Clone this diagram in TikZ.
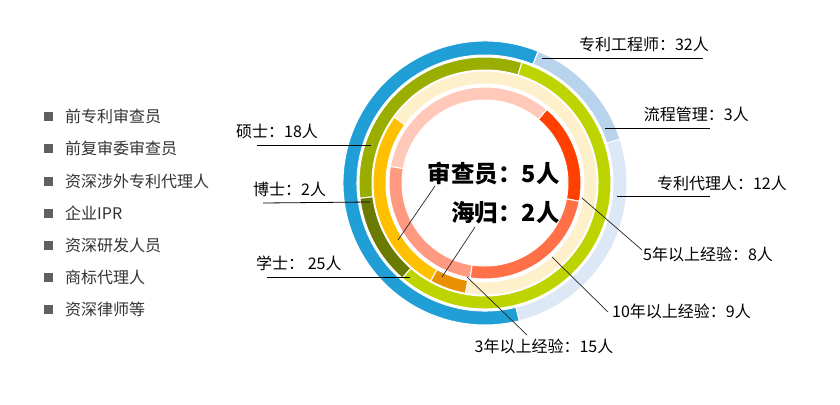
\documentclass[tikz,border=0pt]{standalone}
\usepackage{fontspec}
\setmainfont{Noto Sans CJK SC}
\definecolor{cblue}{HTML}{1F9FD5}
\definecolor{clb1}{HTML}{B8D4EC}
\definecolor{clb2}{HTML}{DCE8F5}
\definecolor{colive}{HTML}{9AAE00}
\definecolor{cdolive}{HTML}{6B7A00}
\definecolor{cygreen}{HTML}{BDD400}
\definecolor{ccream}{HTML}{FFF0CC}
\definecolor{cyellow}{HTML}{FFC000}
\definecolor{corange}{HTML}{E89000}
\definecolor{cred}{HTML}{FF4000}
\definecolor{cor2}{HTML}{FF7048}
\definecolor{csalmon}{HTML}{FF9A80}
\definecolor{cpink}{HTML}{FFC8B8}
\definecolor{legsq}{HTML}{606060}
\definecolor{legtx}{HTML}{333333}
\newcommand\ringseg[5]{%
  \filldraw[fill=#1,draw=white,line width=1pt] (#2:#5pt) arc[start angle=#2,end angle=#3,radius=#5pt]
    -- (#3:#4pt) arc[start angle=#3,end angle=#2,radius=#4pt] -- cycle;}
\begin{document}
\begin{tikzpicture}[x=1pt,y=-1pt,
  lbl/.style={font=\fontsize{16}{19}\selectfont,text=black,inner sep=0pt},
  leg/.style={font=\fontsize{16}{19}\selectfont,text=legtx,inner sep=0pt,anchor=west},
  legbox/.style={fill=legsq,minimum size=9pt,inner sep=0pt},
  ctr/.style={font=\fontsize{23.5}{27}\selectfont\bfseries,text=black,inner sep=0pt,anchor=east},
  lead/.style={draw=black,line width=0.8pt},
  leadthin/.style={draw=black!85,line width=0.7pt}]
\useasboundingbox (0,0) rectangle (840,404);
\fill[white] (0,0) rectangle (840,404);
% rings
\begin{scope}[shift={(485,183)}]
  % outer ring
  \ringseg{cblue}{68}{284}{128}{142}
  \ringseg{clb1}{18}{68}{128}{142}
  \ringseg{clb2}{-76}{18}{128}{142}
  % education ring
  \ringseg{colive}{73}{187}{113}{126}
  \ringseg{cdolive}{187}{229}{113}{126}
  \ringseg{cygreen}{229}{433}{113}{126}
  % reviewer ring
  \ringseg{cyellow}{144}{241}{99}{112}
  \ringseg{corange}{241}{260}{99}{112}
  \ringseg{ccream}{260}{504}{99}{112}
  % experience ring
  \ringseg{cred}{-11}{50}{83}{96}
  \ringseg{cor2}{-99}{-11}{83}{96}
  \ringseg{csalmon}{170}{261}{83}{96}
  \ringseg{cpink}{50}{170}{83}{96}
\end{scope}
% center texts
\node[ctr] (shen) at (560,174) {审查员：5人};
\node[ctr] (hai) at (560,213) {海归：2人};
\coordinate (shenA) at (435,186);
\coordinate (shenB) at (398,240);
\coordinate (haiA) at (475,227);
\coordinate (haiB) at (442,277);
\draw[leadthin] (shenA) -- (shenB);
\draw[leadthin] (haiA) -- (haiB);
% right labels
\node[lbl,anchor=east] (gcs) at (709,44) {专利工程师：32人};
\coordinate (gcsA) at (542,58);
\coordinate (gcsB) at (703,58);
\draw[lead] (gcsA) -- (gcsB);
\node[lbl,anchor=east] (lc) at (749,114) {流程管理：3人};
\coordinate (lcA) at (605,128);
\coordinate (lcB) at (710,128);
\draw[lead] (lcA) -- (lcB);
\node[lbl,anchor=east] (dl) at (787,183) {专利代理人：12人};
\coordinate (dlA) at (617,196);
\coordinate (dlB) at (710,196);
\draw[lead] (dlA) -- (dlB);
\node[lbl,anchor=west] (y5) at (643,254) {5年以上经验：8人};
\coordinate (y5A) at (582,198);
\coordinate (y5B) at (642,250);
\draw[leadthin] (y5A) -- (y5B);
\node[lbl,anchor=west] (y10) at (612,311) {10年以上经验：9人};
\coordinate (y10A) at (552,257);
\coordinate (y10B) at (608,312);
\draw[leadthin] (y10A) -- (y10B);
\node[lbl,anchor=north] (y3) at (544,339) {3年以上经验：15人};
\coordinate (y3A) at (467,277);
\coordinate (y3B) at (527,335);
\draw[leadthin] (y3A) -- (y3B);
% left labels
\node[lbl,anchor=west] (ss) at (236,131) {硕士：18人};
\coordinate (ssA) at (257,145);
\coordinate (ssB) at (371,145);
\draw[lead] (ssA) -- (ssB);
\node[lbl,anchor=west] (bs) at (253,189) {博士：2人};
\coordinate (bsA) at (263,203);
\coordinate (bsB) at (370,202);
\draw[lead] (bsA) -- (bsB);
\node[lbl,anchor=west] (xs) at (256,263) {学士： 25人};
\coordinate (xsA) at (267,277);
\coordinate (xsB) at (410,277);
\draw[lead] (xsA) -- (xsB);
% legend
\node[legbox] (s1) at (48,116) {};
\node[leg] (t1) at (65,116) {前专利审查员};
\node[legbox] (s2) at (48,148) {};
\node[leg] (t2) at (65,148) {前复审委审查员};
\node[legbox] (s3) at (48,181) {};
\node[leg] (t3) at (65,181) {资深涉外专利代理人};
\node[legbox] (s4) at (48,213) {};
\node[leg] (t4) at (65,213) {企业IPR};
\node[legbox] (s5) at (48,245) {};
\node[leg] (t5) at (65,245) {资深研发人员};
\node[legbox] (s6) at (48,277) {};
\node[leg] (t6) at (65,277) {商标代理人};
\node[legbox] (s7) at (48,309) {};
\node[leg] (t7) at (65,309) {资深律师等};
\end{tikzpicture}
\end{document}
